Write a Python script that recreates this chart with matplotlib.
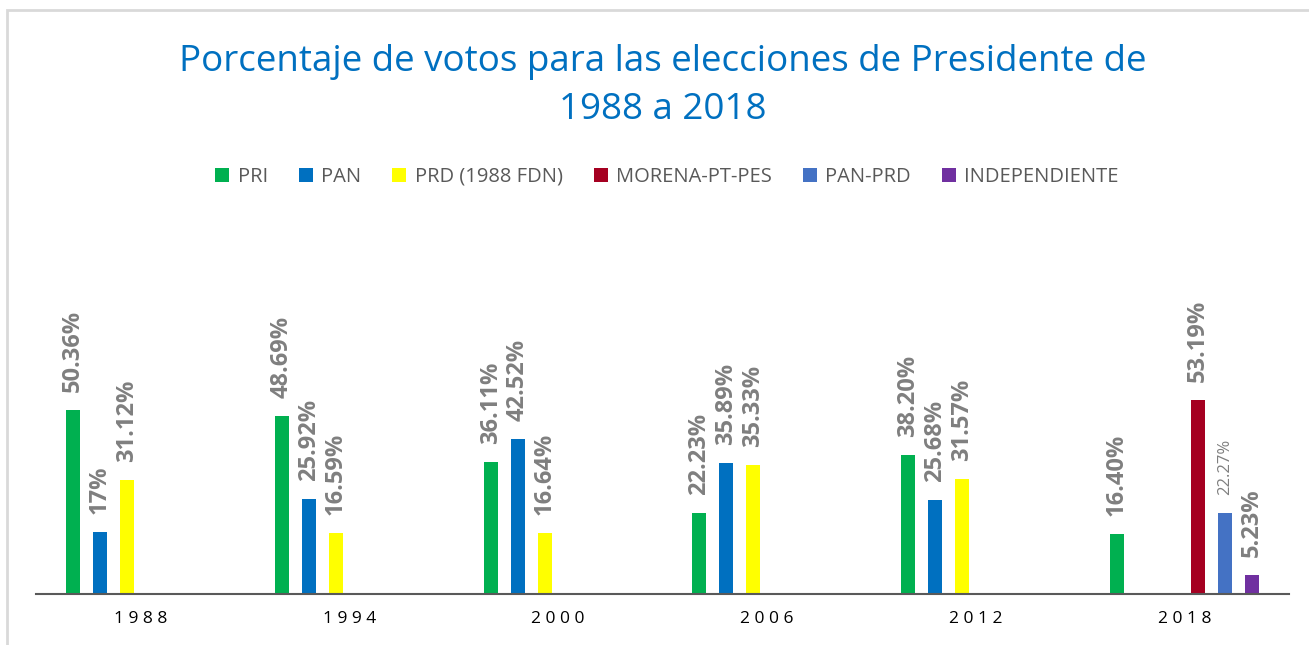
import numpy as np
import matplotlib.pyplot as plt
from matplotlib.patches import Patch, Rectangle

# data
years = ['1988', '1994', '2000', '2006', '2012', '2018']
series = ['PRI', 'PAN', 'PRD (1988 FDN)', 'MORENA-PT-PES', 'PAN-PRD', 'INDEPENDIENTE']
colors = ['#00B050', '#0070C0', '#FFFF00', '#A50021', '#4472C4', '#7030A0']

pri = [50.36, 48.69, 36.11, 22.23, 38.20, 16.40]
pan = [17.00, 25.92, 42.52, 35.89, 25.68, None]
prd = [31.12, 16.59, 16.64, 35.33, 31.57, None]
morena = [None, None, None, None, None, 53.19]
pan_prd = [None, None, None, None, None, 22.27]
indep = [None, None, None, None, None, 5.23]
values = [pri, pan, prd, morena, pan_prd, indep]

pri_lbl = ['50.36%', '48.69%', '36.11%', '22.23%', '38.20%', '16.40%']
pan_lbl = ['17%', '25.92%', '42.52%', '35.89%', '25.68%', None]
prd_lbl = ['31.12%', '16.59%', '16.64%', '35.33%', '31.57%', None]
morena_lbl = [None, None, None, None, None, '53.19%']
pan_prd_lbl = [None, None, None, None, None, '22.27%']
indep_lbl = [None, None, None, None, None, '5.23%']
labels = [pri_lbl, pan_lbl, prd_lbl, morena_lbl, pan_prd_lbl, indep_lbl]

W, H = 1309, 645
fig = plt.figure(figsize=(W / 100, H / 100), dpi=100)
ax = fig.add_axes([36 / W, (H - 594) / H, (1289 - 36) / W, 219 / H])

slot = 27 / 208.8
width = 14 / 208.8
x = np.arange(len(years))
for i, (vals, lbls, col) in enumerate(zip(values, labels, colors)):
    for g in range(len(years)):
        v = vals[g]
        if v is None:
            continue
        xp = x[g] + (i - 2.5) * slot
        ax.bar(xp, v, width=width, color=col, zorder=2)
        if lbls[g] == '22.27%':
            ax.annotate(lbls[g], (xp, v), xytext=(0, 13), textcoords='offset points',
                        rotation=90, ha='center', va='bottom', color='#7F7F7F',
                        fontsize=12, family='Open Sans', annotation_clip=False)
        else:
            ax.annotate(lbls[g], (xp, v), xytext=(0, 13), textcoords='offset points',
                        rotation=90, ha='center', va='bottom', color='#7F7F7F',
                        fontsize=17, fontweight='bold', family='Open Sans',
                        annotation_clip=False)

ax.set_xlim(-0.5, 5.5)
ax.set_ylim(0, 60)
ax.set_yticks([])
ax.set_xticks(x)
ax.set_xticklabels([' '.join(y) for y in years], fontsize=12.5, family='Open Sans', color='black')
ax.tick_params(axis='x', length=0, pad=12)
for s in ['top', 'right', 'left']:
    ax.spines[s].set_visible(False)
ax.spines['bottom'].set_color('#595959')
ax.spines['bottom'].set_linewidth(1.5)

fig.text(663 / W, 1 - 86 / H, 'Porcentaje de votos para las elecciones de Presidente de\n1988 a 2018',
         ha='center', va='center', fontsize=26.5, color='#0070C0', family='Open Sans',
         linespacing=1.42)

handles = [Patch(facecolor=c) for c in colors]
fig.legend(handles, series, loc='center', bbox_to_anchor=(667 / W, 1 - 177 / H), ncol=6,
           frameon=False, prop={'family': 'Open Sans', 'size': 14.5},
           handlelength=0.7, handleheight=0.7, handletextpad=0.4, columnspacing=1.55,
           labelcolor='#595959')

fig.patches.append(Rectangle((7 / W, -0.1), 1.2, 1 - 10 / H + 0.1, transform=fig.transFigure,
                             fill=False, edgecolor='#D9D9D9', linewidth=2))

fig.savefig('out.png', dpi=100)
